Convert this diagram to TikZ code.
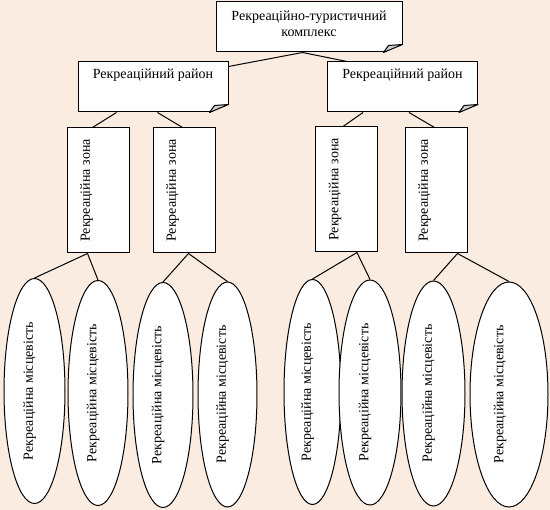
\documentclass[tikz,border=0pt]{standalone}
\usepackage{fontspec}
\setmainfont{Liberation Serif}
\usetikzlibrary{shapes.geometric}
\definecolor{bgcol}{RGB}{250,236,224}
\definecolor{flapcol}{RGB}{205,205,205}
\newcommand\foldcorner[1]{%
  \fill[bgcol] ([xshift=-19.5pt,yshift=-0.8pt]#1.south east) -- ([xshift=0.8pt,yshift=-0.8pt]#1.south east) -- ([xshift=0.8pt,yshift=8.5pt]#1.south east) -- cycle;
  \draw[conn, fill=flapcol, line join=round] ([yshift=8pt]#1.south east) -- ([xshift=-14pt,yshift=7pt]#1.south east) -- ([xshift=-19pt]#1.south east) -- cycle;}
\tikzset{
  every node/.style={font=\fontsize{14}{16}\selectfont\rmfamily},
  conn/.style={line width=1pt},
  boxshape/.style={draw, fill=white, line width=1pt, inner sep=0pt, rectangle},
  distbox/.style={boxshape, minimum width=150pt, minimum height=50pt},
  zonebox/.style={boxshape, minimum width=62pt, minimum height=125pt,
    label={[xshift=-11.5pt, rotate=90]center:Рекреаційна зона}},
  placeell/.style={ellipse, draw, fill=white, line width=1pt, inner sep=0pt,
    minimum width=61pt, minimum height=225pt},
  elltext/.style={label={[xshift=#1, rotate=90]center:Рекреаційна місцевість}},
}
\begin{document}
\begin{tikzpicture}[x=1pt,y=-1pt]
\fill[bgcol] (0,0) rectangle (550,510);
% top
\node[boxshape, minimum width=186pt, minimum height=50pt,
  label={[align=center, yshift=3pt]center:{Рекреаційно-туристичний\\комплекс}}] (top) at (309,27) {};
% districts
\node[distbox, label={[yshift=11.5pt]center:Рекреаційний район}] (d1) at (153,87) {};
\node[distbox, label={[yshift=11.5pt]center:Рекреаційний район}] (d2) at (402.5,87) {};
\foldcorner{top}
\foldcorner{d1}
\foldcorner{d2}
% zones
\node[zonebox] (z1) at (98,190.5) {};
\node[zonebox] (z2) at (184,190.5) {};
\node[zonebox] (z3) at (346.5,189.5) {};
\node[zonebox] (z4) at (436,190.5) {};
% places
\node[placeell, elltext=-5pt] (e1) at (34.5,391) {};
\node[placeell, minimum width=60pt, elltext=-5pt] (e2) at (98,393) {};
\node[placeell, minimum width=60pt, elltext=-5pt] (e3) at (163,395) {};
\node[placeell, minimum width=59pt, elltext=-5pt] (e4) at (227.5,394.5) {};
\node[placeell, minimum width=57pt, elltext=-5pt] (e5) at (312.5,392) {};
\node[placeell, minimum width=62pt, elltext=-5pt] (e6) at (370,392.5) {};
\node[placeell, minimum width=63pt, elltext=-5pt] (e7) at (433.5,393.5) {};
\node[placeell, minimum width=78pt, elltext=-9pt] (e8) at (509,394.5) {};
% connectors
\draw[conn] ([xshift=87pt]top.south west) -- ([yshift=-5pt]d1.north east);
\draw[conn] ([xshift=87pt]top.south west) -- ([xshift=20pt]d2.north west);
\draw[conn] ([xshift=39pt]d1.south west) -- ([xshift=26pt]z1.north west);
\draw[conn] ([xshift=80pt]d1.south west) -- ([xshift=30pt]z2.north west);
\draw[conn] ([xshift=36pt]d2.south west) -- ([xshift=28pt]z3.north west);
\draw[conn] ([xshift=82pt]d2.south west) -- ([xshift=30pt]z4.north west);
\draw[conn] ([xshift=21pt]z1.south west) -- (e1.north);
\draw[conn] ([xshift=21pt]z1.south west) -- (e2.north);
\draw[conn] ([xshift=36pt]z2.south west) -- (e3.north);
\draw[conn] ([xshift=36pt]z2.south west) -- (e4.north);
\draw[conn] ([xshift=42pt]z3.south west) -- (e5.north);
\draw[conn] ([xshift=42pt]z3.south west) -- (e6.north);
\draw[conn] ([xshift=53pt]z4.south west) -- (e7.north);
\draw[conn] ([xshift=53pt]z4.south west) -- (e8.north);
\end{tikzpicture}
\end{document}
